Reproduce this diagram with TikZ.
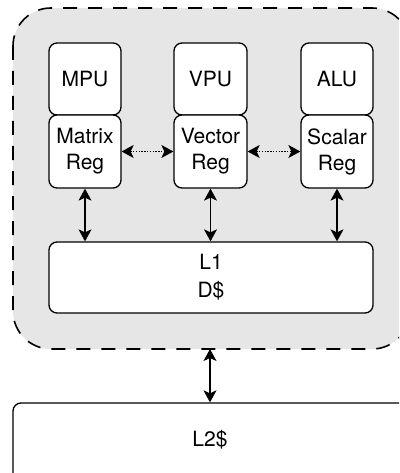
\documentclass[tikz,border=0pt]{standalone}
\usepackage{fontspec}
\setmainfont{TeX Gyre Heros}
\usetikzlibrary{arrows.meta}
\definecolor{coregray}{HTML}{E6E6E6}
\tikzset{
  unitbox/.style={draw=black, fill=white, line width=1.3pt, rounded corners=8pt, align=center, inner sep=0pt,
    font=\fontsize{21}{26}\selectfont},
  tip/.tip={Stealth[length=12pt,width=13pt,inset=3pt]},
  link/.style={line width=1.3pt, tip-tip},
  dotlink/.style={line width=1.3pt, dash pattern=on 1.4pt off 1.4pt, tip-tip},
}
\begin{document}
\begin{tikzpicture}[x=1pt,y=-1pt]
\useasboundingbox (0,0) rectangle (399,473);
\begin{scope}
\clip (0,0) rectangle (399,473);
\draw[black, fill=coregray, line width=1.6pt, dash pattern=on 14pt off 11pt, rounded corners=38pt]
  (13,8) rectangle (410,349);
\coordinate (corebottom) at (210,349);
\node[unitbox, minimum width=72pt, minimum height=72pt] (mpu) at (85,79) {MPU};
\node[unitbox, minimum width=72pt, minimum height=73pt] (mreg) at (85,151.5) {Matrix\\Reg};
\node[unitbox, minimum width=73pt, minimum height=72pt] (vpu) at (210.5,79) {VPU};
\node[unitbox, minimum width=73pt, minimum height=73pt] (vreg) at (210.5,151.5) {Vector\\Reg};
\node[unitbox, minimum width=72pt, minimum height=72pt] (alu) at (337,79) {ALU};
\node[unitbox, minimum width=72pt, minimum height=73pt] (sreg) at (337,151.5) {Scalar\\Reg};
\node[unitbox, minimum width=324pt, minimum height=71pt, font=\fontsize{21}{28}\selectfont] (l1) at (211,277.5) {L1\\D\$};
\node[unitbox, minimum width=420pt, minimum height=80pt] (l2) at (223,443) {};
\node[font=\fontsize{21}{26}\selectfont, inner sep=0pt] (l2text) at (210,440) {L2\$};
\draw[dotlink] (mreg.east) -- (vreg.west);
\draw[dotlink] (vreg.east) -- (sreg.west);
\draw[link] (mreg.south) -- (mreg.south |- l1.north);
\draw[link] (vreg.south) -- (vreg.south |- l1.north);
\draw[link] (sreg.south) -- (sreg.south |- l1.north);
\draw[link] (corebottom) -- (corebottom |- l2.north);
\end{scope}
\end{tikzpicture}
\end{document}
